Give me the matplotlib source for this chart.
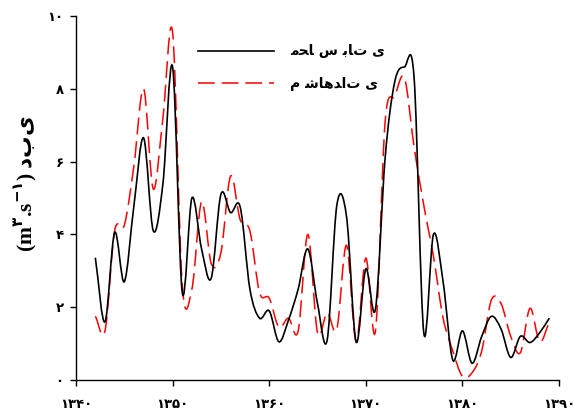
import matplotlib
matplotlib.use('Agg')
import matplotlib.pyplot as plt
from matplotlib.path import Path
from matplotlib.patches import PathPatch
from matplotlib.lines import Line2D
import numpy as np

plt.rcParams['mathtext.fontset'] = 'custom'
plt.rcParams['mathtext.sf'] = 'DejaVu Sans:bold'
plt.rcParams['mathtext.rm'] = 'Liberation Serif:bold'

years = list(range(1342, 1390))
computed = [3.36, 1.6, 4.05, 2.7, 4.8, 6.65, 4.1, 5.4, 8.6, 2.4,
            5.0, 3.6, 2.8, 5.1, 4.6, 4.75, 2.5, 1.7, 1.9, 1.05,
            1.65, 2.5, 3.6, 2.1, 1.1, 4.8, 4.5, 1.05, 3.05, 1.95,
            6.1, 8.2, 8.6, 8.3, 1.3, 4.0, 2.7, 0.55, 1.35, 0.46,
            1.2, 1.75, 1.4, 0.62, 1.2, 1.03, 1.3, 1.7]
observed = [1.75, 1.35, 4.1, 4.25, 5.9, 8.0, 5.25, 7.2, 9.55, 2.6,
            2.5, 4.9, 3.2, 3.5, 5.6, 4.4, 4.1, 2.4, 2.25, 1.45,
            1.7, 1.35, 4.0, 1.3, 1.85, 1.4, 3.7, 1.05, 3.35, 1.35,
            7.1, 7.8, 8.3, 6.4, 4.8, 3.4, 1.7, 0.8, 0.1, 0.2,
            0.8, 2.2, 2.1, 1.2, 0.75, 1.97, 1.05, 1.6]

fa_digits = str.maketrans('0123456789', '۰۱۲۳۴۵۶۷۸۹')
x_ticks = [1340, 1350, 1360, 1370, 1380, 1390]
y_ticks = [0, 2, 4, 6, 8, 10]
label_computed = 'ﻣﺤﺎ ﺱ ﺑﺎﺕ ﻯ'
label_observed = 'ﻡ ﺷﺎﻫﺪﺍﺕ ﻯ'
ylabel = r'(m$^{\mathsf{۳}}$.s$^{\mathsf{-۱}}$) $\mathsf{ﺩﺏﻯ}$'


def smooth_path(xs, ys):
    # smoothed line like a spreadsheet chart: bezier segments through every point
    xs = np.asarray(xs, float)
    ys = np.asarray(ys, float)
    n = len(xs)
    m = np.zeros(n)
    m[1:-1] = (ys[2:] - ys[:-2]) / (xs[2:] - xs[:-2])
    m[0] = (ys[1] - ys[0]) / (xs[1] - xs[0])
    m[-1] = (ys[-1] - ys[-2]) / (xs[-1] - xs[-2])
    verts = [(xs[0], ys[0])]
    codes = [Path.MOVETO]
    for i in range(n - 1):
        dx = (xs[i + 1] - xs[i]) / 3
        verts += [(xs[i] + dx, ys[i] + m[i] * dx),
                  (xs[i + 1] - dx, ys[i + 1] - m[i + 1] * dx),
                  (xs[i + 1], ys[i + 1])]
        codes += [Path.CURVE4] * 3
    return Path(verts, codes)


fig = plt.figure(figsize=(5.74, 4.16), dpi=100)
ax = fig.add_axes([0.1324, 0.0865, 0.8415, 0.875])

red_dash = (0, (11, 4.5))
ax.add_patch(PathPatch(smooth_path(years, observed), fill=False, edgecolor='#ff0000',
                       lw=1.1, linestyle=red_dash, capstyle='butt'))
ax.add_patch(PathPatch(smooth_path(years, computed), fill=False, edgecolor='black',
                       lw=1.2))

ax.set_xlim(1340, 1390)
ax.set_ylim(0, 10)
ax.set_xticks(x_ticks)
ax.set_xticklabels([str(t).translate(fa_digits) for t in x_ticks])
ax.set_yticks(y_ticks)
ax.set_yticklabels([str(t).translate(fa_digits) for t in y_ticks])
for s in ['top', 'right']:
    ax.spines[s].set_visible(False)
for s in ['left', 'bottom']:
    ax.spines[s].set_linewidth(1.0)
ax.tick_params(axis='both', direction='out', length=4, width=1.0, labelsize=9.5)
ax.tick_params(axis='x', pad=9)
ax.tick_params(axis='y', pad=5)
for lab in ax.get_xticklabels() + ax.get_yticklabels():
    lab.set_fontweight('bold')
    lab.set_family('DejaVu Sans')

handles = [Line2D([], [], color='black', lw=1.2),
           Line2D([], [], color='#ff0000', lw=1.1, linestyle=red_dash)]
leg = ax.legend(handles, [label_computed, label_observed], loc='upper left',
                bbox_to_anchor=(0.2526, 0.922), frameon=False, borderpad=0,
                borderaxespad=0, handlelength=5.5, handletextpad=1.1,
                labelspacing=1.35, prop={'family': 'DejaVu Sans', 'weight': 'bold', 'size': 10})

fig.text(0.045, 0.56, ylabel, rotation=90, ha='center', va='center',
         fontsize=15.5, family='Liberation Serif', fontweight='bold')

fig.savefig('out.png', dpi=100)
